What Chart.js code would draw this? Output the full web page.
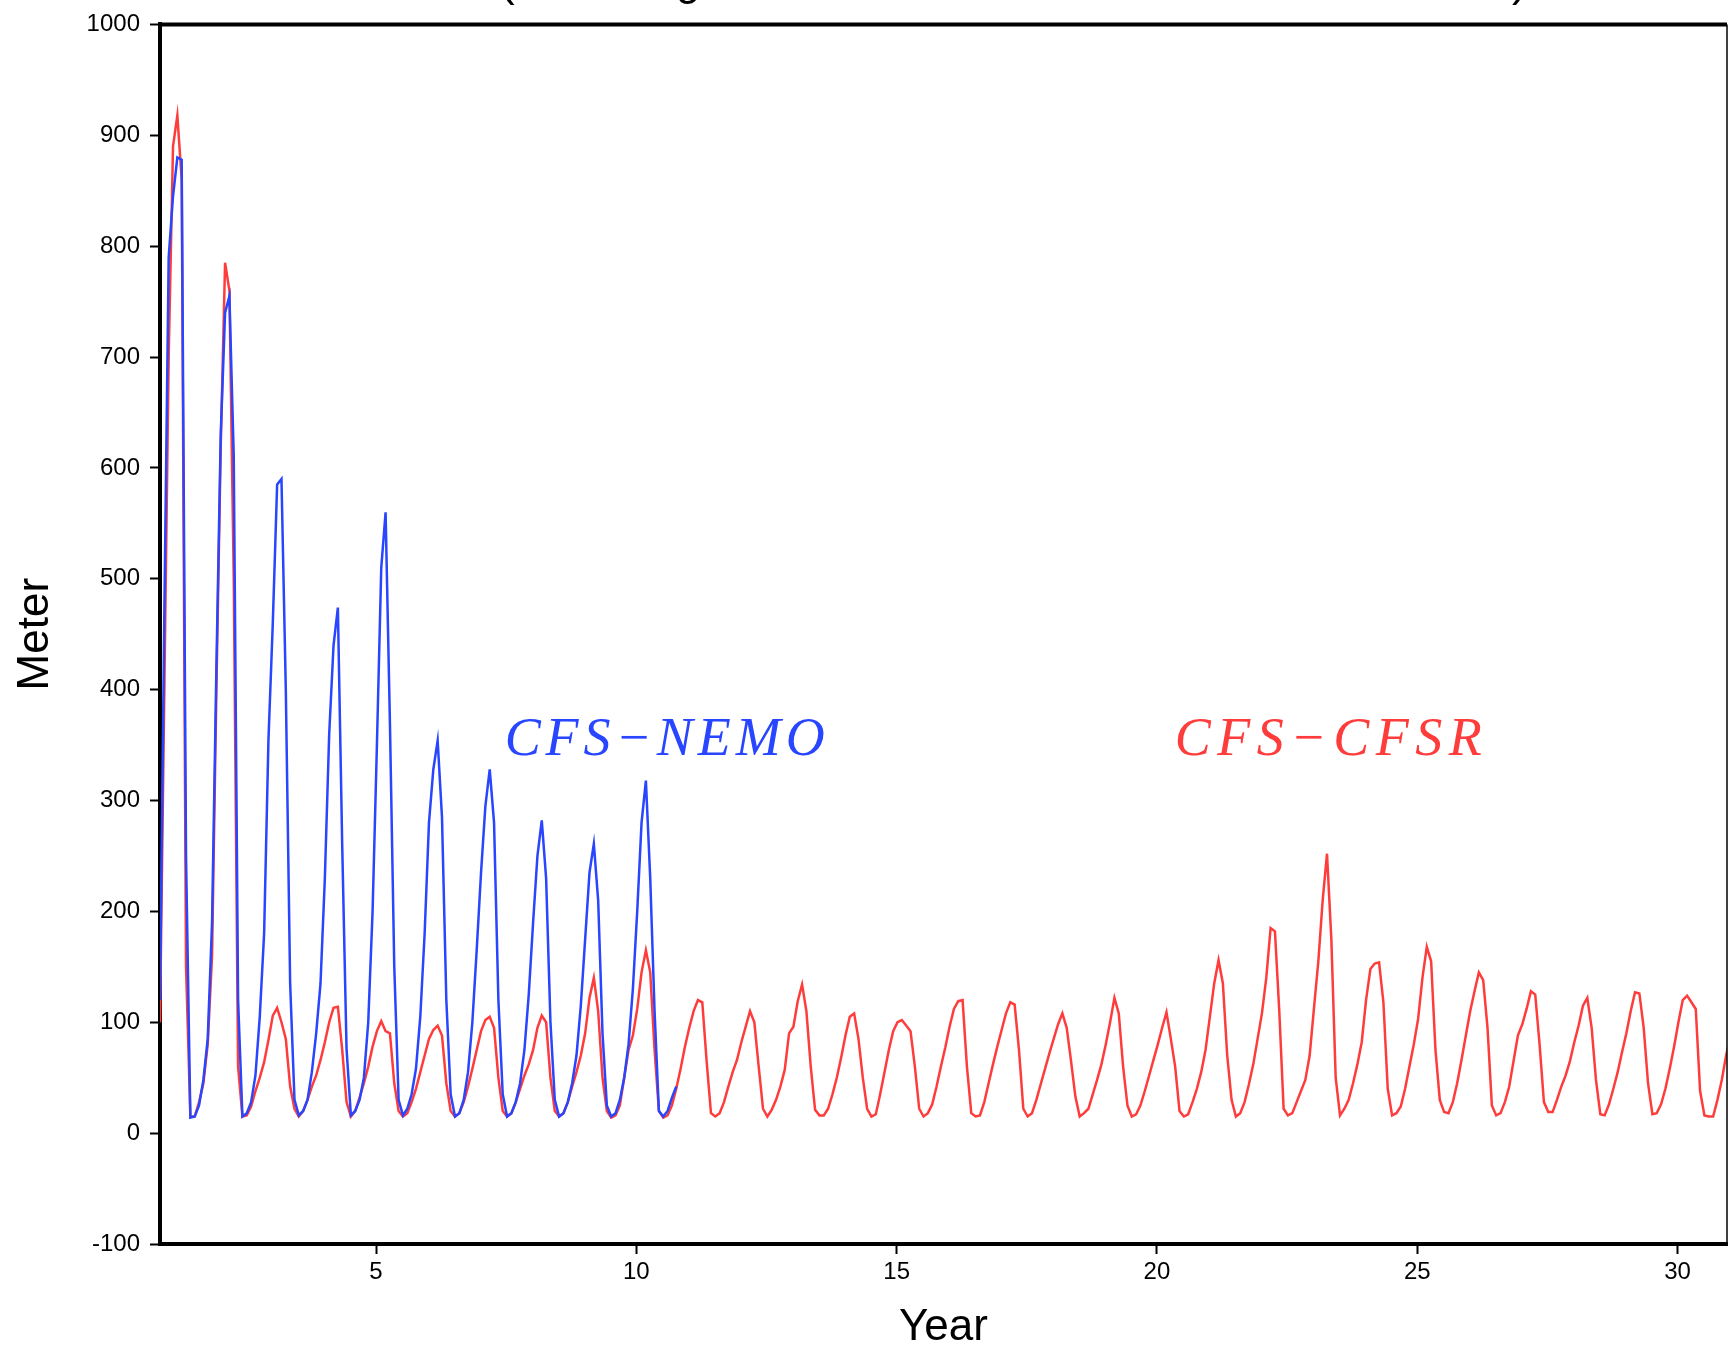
<!DOCTYPE html>
<html>
<head>
<meta charset="utf-8">
<script src="https://cdn.jsdelivr.net/npm/chart.js@4.4.0/dist/chart.umd.min.js"></script>
<style>
  html, body { margin: 0; padding: 0; background: #fff; }
  canvas { display: block; }
</style>
</head>
<body>
<canvas id="myChart" width="1730" height="1351"></canvas>
<script>
// monthly values, first one sits at year 0.85
const firstYear = 0.85;
const lastYear = 30.95;
const xTicks = [5, 10, 15, 20, 25, 30];
const yMin = -100;
const yMax = 1000;
const yStep = 100;
const seriesNames = ["CFS\u2212NEMO", "CFS\u2212CFSR"];

// CFS-NEMO (blue), stops after year 10
const nemo = [
  120, 470, 790, 845, 880, 878, 250, 14, 15, 25, 48, 85,
  190, 420, 630, 740, 755, 610, 120, 15, 18, 28, 52, 105,
  180, 355, 460, 585, 590, 400, 135, 30, 16, 20, 30, 55,
  90, 135, 230, 360, 440, 474, 260, 76, 16, 20, 30, 50,
  100, 200, 350, 510, 560, 370, 150, 30, 16, 22, 35, 58,
  105, 180, 280, 328, 354, 285, 120, 35, 15, 18, 30, 55,
  100, 165, 235, 295, 328, 280, 120, 35, 15, 18, 28, 45,
  75, 125, 190, 250, 282, 230, 100, 30, 15, 18, 28, 45,
  70, 115, 175, 235, 261, 210, 90, 25, 15, 18, 30, 50,
  80, 130, 200, 280, 318, 230, 110, 20, 15, 20, 32, 42
];

// CFS-CFSR (red)
const cfsr = [
  100, 400, 700, 890, 918, 860, 150, 15, 15, 28, 45, 80,
  160, 400, 620, 785, 760, 500, 60, 15, 16, 24, 38, 50,
  64, 84, 106, 113, 100, 85, 42, 22, 15, 20, 30, 42,
  52, 66, 82, 100, 113, 114, 75, 28, 15, 20, 32, 45,
  60, 78, 92, 101, 92, 90, 45, 20, 15, 18, 28, 40,
  55, 70, 85, 93, 97, 88, 45, 20, 15, 18, 28, 42,
  58, 75, 92, 102, 105, 95, 50, 20, 15, 18, 28, 40,
  52, 62, 75, 95, 106, 100, 50, 20, 15, 18, 28, 42,
  55, 70, 90, 122, 140, 110, 50, 20, 14, 16, 25, 50,
  75, 88, 112, 145, 165, 145, 75, 20, 14, 16, 25, 40,
  58, 78, 95, 110, 120, 118, 65, 18, 15, 18, 28, 42,
  55, 66, 82, 96, 110, 100, 60, 22, 15, 21, 30, 42,
  57, 90, 96, 119, 134, 110, 60, 21, 16, 16, 22, 35,
  50, 68, 88, 105, 108, 85, 50, 22, 15, 17, 35, 55,
  75, 92, 100, 102, 97, 92, 60, 22, 15, 18, 26, 42,
  60, 77, 96, 112, 119, 120, 60, 18, 15, 16, 28, 45,
  62, 78, 93, 108, 118, 116, 75, 22, 15, 18, 30, 44,
  58, 72, 85, 98, 108, 95, 65, 33, 15, 18, 22, 35,
  48, 62, 80, 100, 122, 108, 60, 25, 15, 17, 25, 38,
  52, 66, 80, 95, 109, 85, 60, 20, 15, 17, 28, 40,
  55, 75, 105, 135, 156, 135, 70, 30, 15, 18, 28, 44,
  62, 85, 108, 140, 185, 182, 110, 22, 16, 18, 28, 38,
  48, 70, 113, 155, 210, 252, 175, 50, 16, 22, 30, 45,
  62, 82, 120, 148, 153, 154, 118, 40, 16, 18, 24, 40,
  60, 80, 103, 140, 168, 155, 75, 30, 19, 18, 28, 45,
  66, 88, 110, 128, 145, 138, 95, 25, 16, 18, 28, 42,
  65, 88, 98, 112, 128, 125, 80, 28, 19, 19, 30, 42,
  52, 65, 82, 97, 115, 122, 95, 48, 17, 16, 26, 40,
  55, 73, 90, 110, 127, 126, 95, 45, 17, 18, 26, 40,
  58, 78, 100, 120, 124, 118, 112, 38, 16, 15, 15, 30,
  48, 70, 88
];

const toPoints = (vals) => vals.map((v, i) => ({ x: firstYear + i / 12, y: v }));

const blue = "#2845ff";
const red = "#ff3c3c";

// frame top/right edges, series names and the cut off title bits
const extras = {
  id: "extras",
  afterDraw(chart) {
    const { ctx, chartArea: a, scales } = chart;
    ctx.save();
    ctx.strokeStyle = "#000";
    ctx.lineWidth = 4;
    ctx.beginPath();
    ctx.moveTo(a.left - 2, a.top);
    ctx.lineTo(a.right, a.top);
    ctx.stroke();
    ctx.lineWidth = 1.5;
    ctx.beginPath();
    ctx.moveTo(a.right, a.top);
    ctx.lineTo(a.right, a.bottom);
    ctx.stroke();

    const labels = [
      { text: seriesNames[0], x: 7.47, y: 341, width: 320, color: blue },
      { text: seriesNames[1], x: 20.34, y: 341, width: 307, color: red }
    ];
    ctx.font = 'italic 54px "Liberation Serif"';
    ctx.textBaseline = "alphabetic";
    ctx.textAlign = "left";
    labels.forEach((l) => {
      ctx.letterSpacing = "0px";
      const natural = ctx.measureText(l.text).width;
      const n = [...l.text].length;
      ctx.letterSpacing = Math.max(0, (l.width - natural) / (n - 1)) + "px";
      ctx.fillStyle = l.color;
      ctx.fillText(l.text, scales.x.getPixelForValue(l.x), scales.y.getPixelForValue(l.y));
    });
    ctx.letterSpacing = "0px";

    // bottom of the title line, above the picture
    ctx.fillStyle = "#000";
    ctx.font = '44px "Liberation Sans"';
    ctx.fillText("(", 500, -4);
    ctx.fillText("g", 676, -5);
    ctx.fillText(")", 1512, -4);
    ctx.restore();
  }
};

const tickFont = { family: '"Liberation Sans", sans-serif', size: 24 };
const titleFont = { family: '"Liberation Sans", sans-serif', size: 44, lineHeight: 1.05 };

new Chart(document.getElementById("myChart"), {
  type: "line",
  data: {
    datasets: [
      {
        label: seriesNames[0],
        data: toPoints(nemo),
        borderColor: blue,
        borderWidth: 2.5,
        pointRadius: 0,
        tension: 0
      },
      {
        label: seriesNames[1],
        data: toPoints(cfsr),
        borderColor: red,
        borderWidth: 2.5,
        pointRadius: 0,
        tension: 0
      }
    ]
  },
  options: {
    responsive: false,
    animation: false,
    events: [],
    layout: { padding: { top: 21, right: 3, left: 0, bottom: 0 } },
    plugins: {
      legend: { display: false },
      tooltip: { enabled: false }
    },
    scales: {
      x: {
        type: "linear",
        min: firstYear,
        max: lastYear,
        afterBuildTicks: (s) => { s.ticks = xTicks.map((v) => ({ value: v })); },
        afterFit: (s) => { s.height = 107; },
        ticks: { color: "#000", font: tickFont, padding: 4, maxRotation: 0, callback: (v) => String(v) },
        grid: { drawOnChartArea: false, drawTicks: true, tickLength: 10, tickWidth: 2, tickColor: "#000" },
        border: { display: true, color: "#000", width: 4 },
        title: { display: true, text: "Year", color: "#000", font: titleFont, padding: 0 }
      },
      y: {
        min: yMin,
        max: yMax,
        ticks: { stepSize: yStep, color: "#000", font: tickFont, padding: 10, callback: (v) => String(v) },
        afterFit: (s) => { s.width = 160; },
        grid: { drawOnChartArea: false, drawTicks: true, tickLength: 10, tickWidth: 2, tickColor: "#000" },
        border: { display: true, color: "#000", width: 4 },
        title: { display: true, text: "Meter", color: "#000", font: titleFont, padding: { top: 13, bottom: 0 } }
      }
    }
  },
  plugins: [extras]
});
</script>
</body>
</html>
